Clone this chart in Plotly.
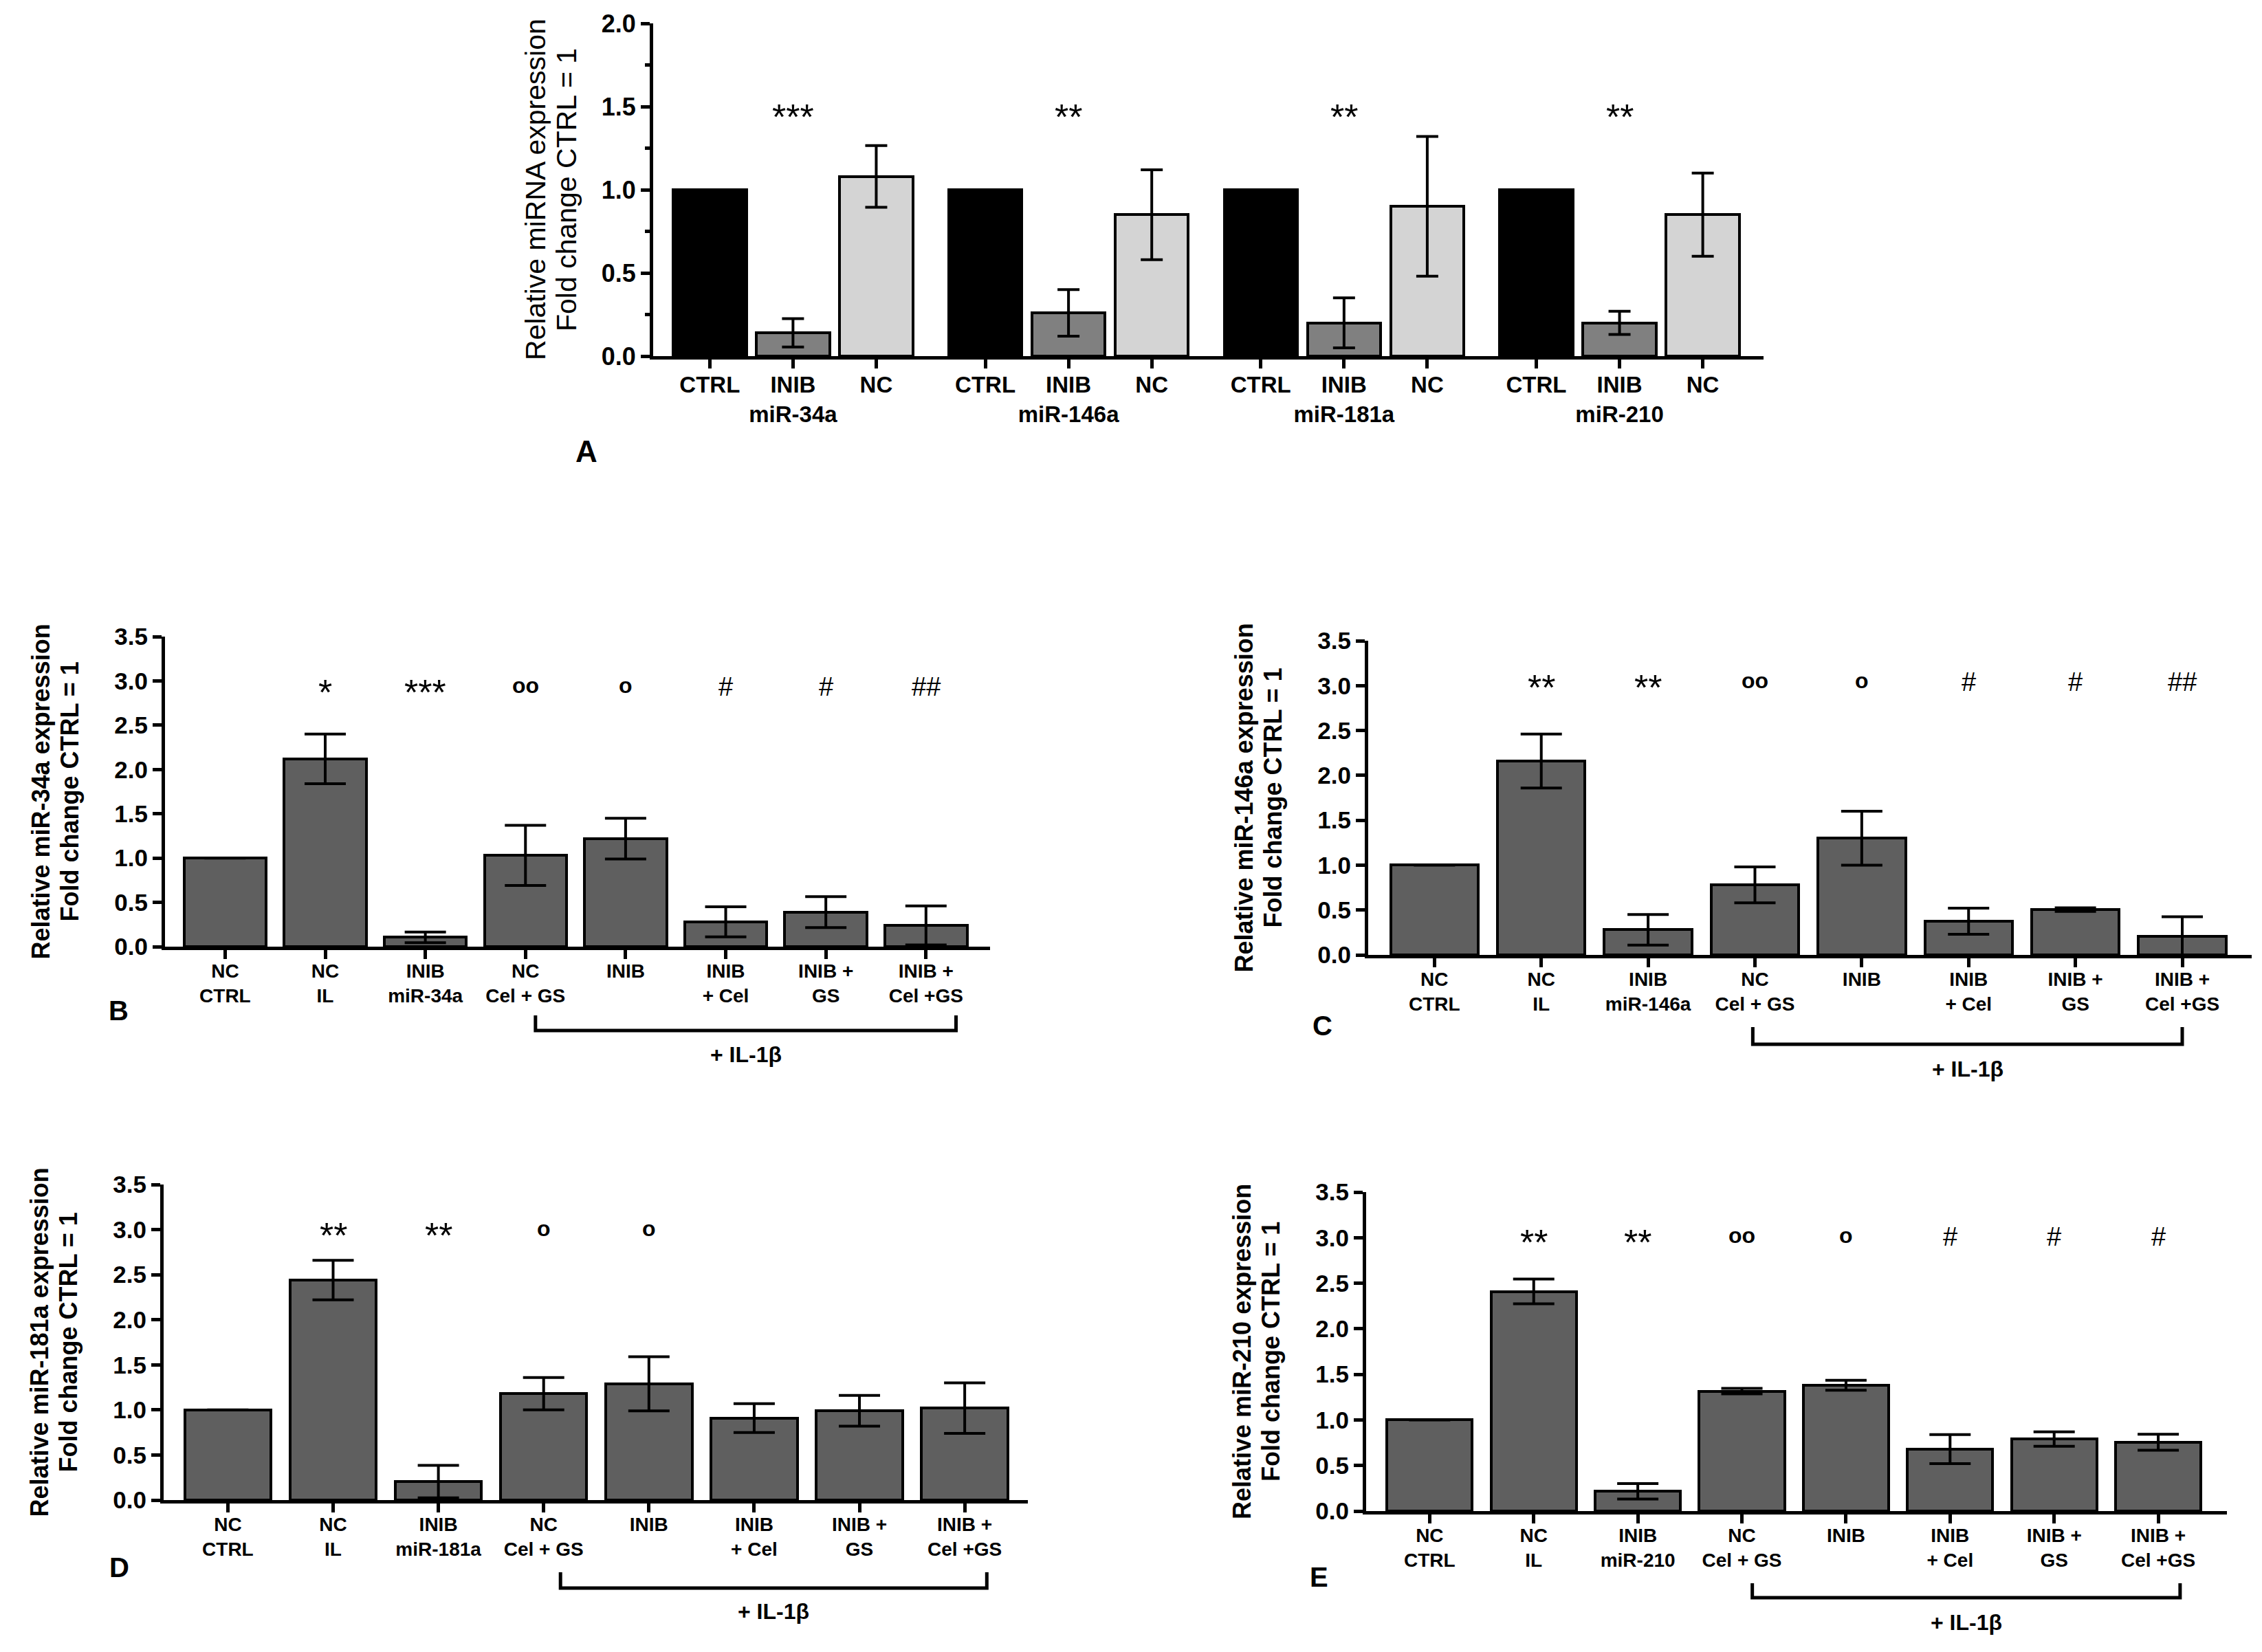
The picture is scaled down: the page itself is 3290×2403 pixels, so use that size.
import plotly.graph_objects as go

W, H = 3290, 2403
PAGE_OFFSET = 8  # default body margin of the html page

# ---------------- data ----------------
# Panel A
a_groups = ["miR-34a", "miR-146a", "miR-181a", "miR-210"]
a_conditions = ["CTRL", "INIB", "NC"]
a_ctrl = [1.0, 1.0, 1.0, 1.0]
a_ctrl_err = [0.0, 0.0, 0.0, 0.0]
a_inib = [0.14, 0.26, 0.20, 0.20]
a_inib_err = [0.085, 0.14, 0.15, 0.07]
a_nc = [1.08, 0.85, 0.90, 0.85]
a_nc_err = [0.185, 0.27, 0.42, 0.25]
a_sig = ["***", "**", "**", "**"]
a_sig_level = 1.47

# Panels B-E
cond_labels_b = ["NC<br>CTRL", "NC<br>IL", "INIB<br>miR-34a", "NC<br>Cel + GS", "INIB",
                 "INIB<br>+ Cel", "INIB +<br>GS", "INIB +<br>Cel +GS"]
cond_labels_c = ["NC<br>CTRL", "NC<br>IL", "INIB<br>miR-146a", "NC<br>Cel + GS", "INIB",
                 "INIB<br>+ Cel", "INIB +<br>GS", "INIB +<br>Cel +GS"]
cond_labels_d = ["NC<br>CTRL", "NC<br>IL", "INIB<br>miR-181a", "NC<br>Cel + GS", "INIB",
                 "INIB<br>+ Cel", "INIB +<br>GS", "INIB +<br>Cel +GS"]
cond_labels_e = ["NC<br>CTRL", "NC<br>IL", "INIB<br>miR-210", "NC<br>Cel + GS", "INIB",
                 "INIB<br>+ Cel", "INIB +<br>GS", "INIB +<br>Cel +GS"]

b_means = [1.0, 2.12, 0.105, 1.03, 1.22, 0.28, 0.39, 0.24]
b_err = [0.0, 0.28, 0.06, 0.34, 0.23, 0.17, 0.175, 0.22]
b_sig = ["", "*", "***", "oo", "o", "#", "#", "##"]

c_means = [1.0, 2.16, 0.28, 0.78, 1.30, 0.375, 0.505, 0.205]
c_err = [0.0, 0.30, 0.17, 0.20, 0.30, 0.145, 0.02, 0.22]
c_sig = ["", "**", "**", "oo", "o", "#", "#", "##"]

d_means = [1.0, 2.44, 0.205, 1.18, 1.29, 0.91, 0.99, 1.02]
d_err = [0.0, 0.22, 0.18, 0.18, 0.30, 0.16, 0.17, 0.28]
d_sig = ["", "**", "**", "o", "o", "", "", ""]

e_means = [1.0, 2.41, 0.217, 1.316, 1.38, 0.68, 0.79, 0.755]
e_err = [0.0, 0.135, 0.085, 0.03, 0.055, 0.16, 0.08, 0.088]
e_sig = ["", "**", "**", "oo", "o", "#", "#", "#"]

y_titles = ["Relative miR-34a expression", "Relative miR-146a expression",
            "Relative miR-181a expression", "Relative miR-210 expression"]
y_title2 = "Fold change CTRL = 1"
a_title1 = "Relative miRNA expression"
il_label = "+ IL-1β"

# ---------------- helpers ----------------
FONT = "Liberation Sans, Arial, Helvetica, sans-serif"


def px_x(px):
    return (px - PAGE_OFFSET) / W


def px_y(py):
    return 1 - (py - PAGE_OFFSET) / H


fig = go.Figure()
annotations = []
shapes = []

AXIS_COMMON = dict(showgrid=False, zeroline=False, showline=True, linecolor="black",
                   linewidth=5, ticks="outside", tickcolor="black", tickwidth=5,
                   ticklen=13, fixedrange=True, automargin=False)

sig_style = {"*": dict(size=52, shift=-8, weight="normal"),
             "#": dict(size=38, shift=0, weight="normal"),
             "o": dict(size=32, shift=2, weight="bold")}

# ---------------- Panel A ----------------
group_step = 3.31
a_colors = {"CTRL": "#000000", "INIB": "#808080", "NC": "#d4d4d4"}
a_vals = {"CTRL": (a_ctrl, a_ctrl_err), "INIB": (a_inib, a_inib_err), "NC": (a_nc, a_nc_err)}
a_tickvals, a_ticktext = [], []
for i, cond in enumerate(a_conditions):
    vals, errs = a_vals[cond]
    xs = [g * group_step + i for g in range(len(a_groups))]
    fig.add_trace(go.Bar(
        x=xs, y=vals, width=0.88, xaxis="x", yaxis="y",
        marker=dict(color=a_colors[cond], line=dict(color="black", width=4)),
        error_y=dict(type="data", array=errs, visible=True, color="black",
                     thickness=4, width=16),
        showlegend=False, hoverinfo="skip"))
for g, grp in enumerate(a_groups):
    for i, cond in enumerate(a_conditions):
        a_tickvals.append(g * group_step + i)
        a_ticktext.append(cond + ("<br>" + grp if cond == "INIB" else ""))
    st = sig_style["*"]
    annotations.append(dict(x=g * group_step + 1, y=a_sig_level, xref="x", yref="y",
                            text=a_sig[g], showarrow=False, yanchor="middle", yshift=st["shift"],
                            font=dict(family=FONT, size=st["size"], color="black",
                                      weight=st["weight"])))

fig.update_layout(
    xaxis=dict(domain=[px_x(950), px_x(2565)], range=[-0.68, 12.66], anchor="y",
               tickvals=a_tickvals, ticktext=a_ticktext, ticklabelstandoff=-5,
               tickfont=dict(family=FONT, size=33, color="black", weight="bold"),
               **AXIS_COMMON),
    yaxis=dict(domain=[px_y(518), px_y(34)], range=[0, 2.0], anchor="x",
               tickvals=[0, 0.5, 1.0, 1.5, 2.0], tickformat=".1f",
               tickfont=dict(family=FONT, size=36, color="black", weight="bold"),
               minor=dict(tickvals=[0.25, 0.75, 1.25, 1.75], ticks="outside",
                          ticklen=7, tickwidth=5, tickcolor="black"),
               **AXIS_COMMON),
)
annotations.append(dict(x=px_x(779), y=px_y(276), xref="paper", yref="paper", text=a_title1,
                        textangle=-90, showarrow=False, xanchor="center", yanchor="middle",
                        font=dict(family=FONT, size=41, color="black")))
annotations.append(dict(x=px_x(824), y=px_y(276), xref="paper", yref="paper", text=y_title2,
                        textangle=-90, showarrow=False, xanchor="center", yanchor="middle",
                        font=dict(family=FONT, size=41, color="black")))
annotations.append(dict(x=px_x(853), y=px_y(657), xref="paper", yref="paper", text="A",
                        showarrow=False, xanchor="center", yanchor="middle",
                        font=dict(family=FONT, size=44, color="black", weight="bold")))

# ---------------- Panels B-E ----------------
panels = [
    dict(letter="B", means=b_means, err=b_err, sig=b_sig, labels=cond_labels_b, title=y_titles[0],
         xd=(240, 1440), yd=(926, 1377), xr=(-0.6, 7.64), sig_level=2.93,
         bracket=(3.1, 7.3), br_y=(1477, 1499), il_y=1534, letter_xy=(172, 1470)),
    dict(letter="C", means=c_means, err=c_err, sig=c_sig, labels=cond_labels_c, title=y_titles[1],
         xd=(1990, 3275), yd=(932, 1389), xr=(-0.62, 7.65), sig_level=3.04,
         bracket=(2.98, 7.0), br_y=(1494, 1519), il_y=1555, letter_xy=(1923, 1492)),
    dict(letter="D", means=d_means, err=d_err, sig=d_sig, labels=cond_labels_d, title=y_titles[2],
         xd=(238, 1495), yd=(1723, 2182), xr=(-0.61, 7.6), sig_level=3.0,
         bracket=(3.16, 7.21), br_y=(2287, 2310), il_y=2344, letter_xy=(173, 2280)),
    dict(letter="E", means=e_means, err=e_err, sig=e_sig, labels=cond_labels_e, title=y_titles[3],
         xd=(1987, 3239), yd=(1734, 2198), xr=(-0.61, 7.66), sig_level=3.01,
         bracket=(3.1, 7.21), br_y=(2303, 2324), il_y=2360, letter_xy=(1918, 2294)),
]

for k, p in enumerate(panels):
    n = k + 2
    xa, ya = f"x{n}", f"y{n}"
    xs = list(range(len(p["means"])))
    fig.add_trace(go.Bar(
        x=xs, y=p["means"], width=0.82, xaxis=xa, yaxis=ya,
        marker=dict(color="#5f5f5f", line=dict(color="black", width=4)),
        error_y=dict(type="data", array=p["err"], visible=True, color="black",
                     thickness=4, width=30),
        showlegend=False, hoverinfo="skip"))
    fig.update_layout(**{
        f"xaxis{n}": dict(domain=[px_x(p["xd"][0]), px_x(p["xd"][1])], range=list(p["xr"]),
                          anchor=ya, tickvals=xs, ticktext=p["labels"], ticklabelstandoff=-7,
                          tickfont=dict(family=FONT, size=28, color="black", weight="bold"),
                          **AXIS_COMMON),
        f"yaxis{n}": dict(domain=[px_y(p["yd"][1]), px_y(p["yd"][0])], range=[0, 3.5],
                          anchor=xa, dtick=0.5, tick0=0, tickformat=".1f",
                          tickfont=dict(family=FONT, size=35, color="black", weight="bold"),
                          **AXIS_COMMON),
    })
    for i, s in enumerate(p["sig"]):
        if not s:
            continue
        st = sig_style[s[0]]
        annotations.append(dict(x=i, y=p["sig_level"], xref=xa, yref=ya, text=s,
                                showarrow=False, yanchor="middle", yshift=st["shift"],
                                font=dict(family=FONT, size=st["size"], color="black",
                                          weight=st["weight"])))
    ycen = (p["yd"][0] + p["yd"][1]) / 2
    ax_x = p["xd"][0]
    annotations.append(dict(x=px_x(ax_x - 181), y=px_y(ycen), xref="paper", yref="paper",
                            text=p["title"], textangle=-90, showarrow=False,
                            xanchor="center", yanchor="middle",
                            font=dict(family=FONT, size=36, color="black", weight="bold")))
    annotations.append(dict(x=px_x(ax_x - 139), y=px_y(ycen), xref="paper", yref="paper",
                            text=y_title2, textangle=-90, showarrow=False,
                            xanchor="center", yanchor="middle",
                            font=dict(family=FONT, size=36, color="black", weight="bold")))
    annotations.append(dict(x=px_x(p["letter_xy"][0]), y=px_y(p["letter_xy"][1]),
                            xref="paper", yref="paper", text=p["letter"], showarrow=False,
                            xanchor="center", yanchor="middle",
                            font=dict(family=FONT, size=40, color="black", weight="bold")))
    bx0, bx1 = p["bracket"]
    ytop, ybot = px_y(p["br_y"][0]), px_y(p["br_y"][1])
    shapes.append(dict(type="path", xref=xa, yref="paper",
                       path=f"M {bx0},{ytop} L {bx0},{ybot} L {bx1},{ybot} L {bx1},{ytop}",
                       line=dict(color="black", width=5)))
    annotations.append(dict(x=(bx0 + bx1) / 2, y=px_y(p["il_y"]), xref=xa, yref="paper",
                            text=il_label, showarrow=False, xanchor="center", yanchor="middle",
                            font=dict(family=FONT, size=32, color="black", weight="bold")))

fig.update_layout(
    width=W, height=H, autosize=False,
    margin=dict(l=0, r=0, t=0, b=0, pad=0, autoexpand=False),
    paper_bgcolor="white", plot_bgcolor="white",
    bargap=0, showlegend=False,
    annotations=annotations, shapes=shapes,
    font=dict(family=FONT, color="black"),
)

fig.write_html("out.html")
